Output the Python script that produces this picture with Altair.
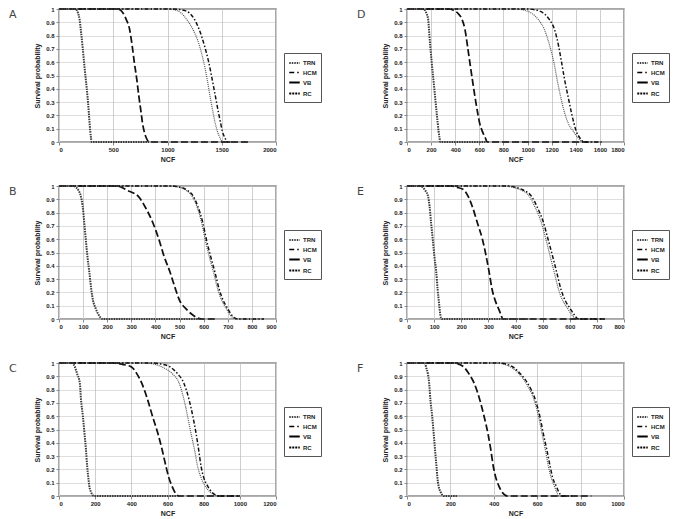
import altair as alt
import pandas as pd

SERIES = ["TRN", "HCM", "VB", "RC"]
# survival levels shared by every curve (start, plateau end, ..., bottom, tail end)
LEVELS = [1, 1, 0.99, 0.97, 0.92, 0.85, 0.72, 0.60, 0.47, 0.35, 0.22, 0.14, 0.08, 0.03, 0, 0]

# NCF values at LEVELS
A_TRN = [0, 1000, 1080, 1125, 1178, 1232, 1296, 1334, 1366, 1391, 1420, 1440, 1460, 1485, 1510, 1530]
A_HCM = [0, 1050, 1150, 1202, 1250, 1290, 1342, 1380, 1412, 1440, 1470, 1490, 1506, 1530, 1555, 1580]
A_VB = [0, 540, 570, 590, 620, 650, 675, 694, 717, 735, 757, 770, 785, 805, 833, 1750]
A_RC = [0, 150, 165, 175, 190, 200, 217, 231, 247, 262, 275, 282, 288, 295, 300, 830]

D_TRN = [0, 900, 980, 1030, 1090, 1138, 1185, 1218, 1245, 1272, 1307, 1338, 1380, 1420, 1468, 1600]
D_HCM = [0, 1000, 1080, 1130, 1182, 1222, 1258, 1282, 1307, 1334, 1364, 1385, 1404, 1435, 1468, 1620]
D_VB = [0, 350, 385, 420, 457, 480, 502, 521, 542, 562, 586, 603, 625, 650, 665, 1500]
D_RC = [0, 125, 150, 160, 176, 182, 193, 205, 219, 232, 246, 255, 262, 270, 277, 650]

B_TRN = [0, 450, 500, 525, 553, 571, 592, 606, 623, 641, 659, 675, 693, 710, 735, 850]
B_HCM = [0, 460, 505, 530, 558, 575, 597, 611, 629, 647, 665, 681, 699, 716, 742, 850]
B_VB = [0, 230, 260, 280, 330, 355, 390, 414, 436, 461, 484, 500, 525, 555, 591, 650]
B_RC = [0, 60, 70, 80, 91, 98, 105, 111, 118, 126, 134, 141, 152, 165, 181, 600]

E_TRN = [0, 360, 390, 420, 452, 470, 496, 512, 528, 543, 559, 574, 592, 608, 624, 640]
E_HCM = [0, 370, 400, 428, 460, 478, 504, 520, 537, 552, 568, 583, 601, 617, 632, 725]
E_VB = [0, 160, 185, 210, 226, 240, 260, 278, 292, 303, 314, 325, 337, 347, 353, 730]
E_RC = [0, 50, 58, 66, 78, 83, 89, 95, 101, 108, 113, 117, 120, 123, 128, 450]

C_TRN = [0, 470, 530, 570, 626, 664, 692, 711, 730, 749, 767, 785, 806, 835, 880, 1000]
C_HCM = [0, 510, 575, 615, 655, 690, 720, 740, 758, 772, 786, 800, 820, 845, 889, 1000]
C_VB = [0, 300, 350, 401, 430, 457, 491, 517, 547, 570, 592, 607, 623, 640, 664, 1000]
C_RC = [0, 70, 80, 88, 100, 115, 122, 132, 141, 149, 156, 162, 167, 177, 194, 650]

F_TRN = [0, 410, 450, 478, 515, 548, 586, 606, 622, 637, 652, 664, 678, 690, 700, 760]
F_HCM = [0, 420, 460, 488, 522, 555, 592, 612, 628, 644, 660, 671, 686, 700, 715, 760]
F_VB = [0, 215, 240, 262, 285, 309, 336, 355, 373, 386, 398, 409, 422, 438, 463, 850]
F_RC = [0, 80, 85, 88, 96, 102, 108, 116, 123, 129, 136, 140, 145, 155, 170, 230]

PANEL_LETTERS = ["A", "D", "B", "E", "C", "F"]
PANEL_XMAX = [2000, 1800, 900, 800, 1200, 1000]
PANEL_XSTEP = [500, 200, 100, 100, 200, 200]
PANEL_CURVES = [
    [A_TRN, A_HCM, A_VB, A_RC],
    [D_TRN, D_HCM, D_VB, D_RC],
    [B_TRN, B_HCM, B_VB, B_RC],
    [E_TRN, E_HCM, E_VB, E_RC],
    [C_TRN, C_HCM, C_VB, C_RC],
    [F_TRN, F_HCM, F_VB, F_RC],
]
Y_TICKS = [0, 0.1, 0.2, 0.3, 0.4, 0.5, 0.6, 0.7, 0.8, 0.9, 1]

CURVE_DASH = [[1, 1], [4, 2, 1.5, 2], [7, 3], [1.5, 1]]
CURVE_WIDTH = [1.2, 2, 2, 1.3]
CURVE_COLOR = ["#555555", "#111111", "#111111", "#3a3a3a"]
LEG_DASH = [[1.5, 1], [5, 3, 1.5, 3], [1, 0], [2, 1]]
LEG_WIDTH = [1.5, 2, 2.5, 1.5]

FONT = "Liberation Sans"
W, H = 217, 133


def panel(letter, xmax, xstep, curves):
    rows = []
    for name, xs in zip(SERIES, curves):
        for x, y in zip(xs, LEVELS):
            rows.append({"series": name, "ncf": x, "surv": y})
    df = pd.DataFrame(rows)
    xaxis = alt.Axis(values=list(range(0, xmax + 1, xstep)), format="d", title="NCF",
                     gridColor="#cfcfcf", gridWidth=1, labelPadding=1,
                     titlePadding=3, labelOverlap=False, tickCount=len(range(0, xmax + 1, xstep)))
    yaxis = alt.Axis(values=Y_TICKS, format="~g", title="Survival probability",
                     gridColor="#bdbdbd", gridDash=[1, 1], gridWidth=1,
                     titlePadding=5, labelPadding=2, labelOverlap=False, tickCount=11)
    xscale = alt.Scale(domain=[0, xmax], nice=False)
    yscale = alt.Scale(domain=[0, 1], nice=False)
    lines = alt.Chart(df).mark_line(interpolate="monotone").encode(
        x=alt.X("ncf:Q", scale=xscale, axis=xaxis),
        y=alt.Y("surv:Q", scale=yscale, axis=yaxis),
        strokeDash=alt.StrokeDash("series:N", scale=alt.Scale(domain=SERIES, range=CURVE_DASH), legend=None),
        strokeWidth=alt.StrokeWidth("series:N", scale=alt.Scale(domain=SERIES, range=CURVE_WIDTH), legend=None),
        color=alt.Color("series:N", scale=alt.Scale(domain=SERIES, range=CURVE_COLOR), legend=None),
    )
    legdf = pd.DataFrame({"key": SERIES, "ncf": [0] * 4, "surv": [1] * 4})
    leg = alt.Chart(legdf).mark_line(color="black").encode(
        x=alt.X("ncf:Q", scale=xscale, axis=xaxis),
        y=alt.Y("surv:Q", scale=yscale, axis=yaxis),
        strokeDash=alt.StrokeDash("key:N", scale=alt.Scale(domain=SERIES, range=LEG_DASH),
                                  legend=alt.Legend(title=None, orient="none", legendX=225, legendY=44)),
        strokeWidth=alt.StrokeWidth("key:N", scale=alt.Scale(domain=SERIES, range=LEG_WIDTH),
                                    legend=alt.Legend(title=None, orient="none", legendX=225, legendY=44)),
    )
    lab = alt.Chart(pd.DataFrame({"t": [letter]})).mark_text(
        align="left", baseline="top", fontSize=11, font="DejaVu Sans", fontWeight="normal",
        color="#444444").encode(text="t:N", x=alt.value(-50), y=alt.value(0))
    return alt.layer(lines, leg, lab).resolve_scale(
        strokeDash="independent", strokeWidth="independent", color="independent"
    ).properties(width=W, height=H)


charts = [panel(l, xm, xs, c) for l, xm, xs, c in zip(PANEL_LETTERS, PANEL_XMAX, PANEL_XSTEP, PANEL_CURVES)]

chart = alt.concat(*charts, columns=2, spacing={"row": 18, "column": 33}).properties(
    padding={"left": 0, "top": -4, "right": 0, "bottom": 0}
).configure_view(
    stroke="#8a8a8a", strokeWidth=1.5
).configure_axis(
    labelFont=FONT, labelFontSize=6, labelFontWeight="bold", labelColor="#222222",
    titleFont=FONT, titleFontSize=7, titleFontWeight="bold", titleColor="#222222",
    domain=False, tickColor="#888888", tickSize=3, labelOverlap=False
).configure_legend(
    strokeColor="#555555", fillColor="white", padding=4, labelFont=FONT, labelFontSize=6,
    labelFontWeight="bold", labelColor="#222222", symbolType="stroke", symbolSize=110,
    symbolStrokeColor="black", rowPadding=0, labelOffset=2, cornerRadius=0
)

chart.save("out.html", embed_options={"renderer": "svg", "actions": False})
